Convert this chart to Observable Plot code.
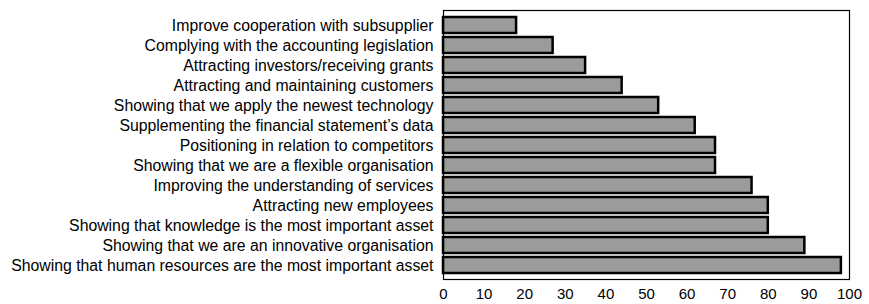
<!DOCTYPE html>
<html>
<head>
<meta charset="utf-8">
<script src="https://cdn.jsdelivr.net/npm/d3@7"></script>
<script src="https://cdn.jsdelivr.net/npm/@observablehq/plot@0.6"></script>
<style>
  html, body { margin: 0; padding: 0; background: #fff; }
  #chart svg { display: block; }
  #chart svg [aria-label="y-axis tick label"] { font-size: 15.8px; }
  #chart svg [aria-label="x-axis tick label"] { font-size: 15px; }
</style>
</head>
<body>
<div id="chart"></div>
<script>
const categories = [
  "Improve cooperation with subsupplier",
  "Complying with the accounting legislation",
  "Attracting investors/receiving grants",
  "Attracting and maintaining customers",
  "Showing that we apply the newest technology",
  "Supplementing the financial statement\u2019s data",
  "Positioning in relation to competitors",
  "Showing that we are a flexible organisation",
  "Improving the understanding of services",
  "Attracting new employees",
  "Showing that knowledge is the most important asset",
  "Showing that we are an innovative organisation",
  "Showing that human resources are the most important asset"
];
const values = [18, 27, 35, 44, 53, 62, 67, 67, 76, 80, 80, 89, 98];
const xTicks = [0, 10, 20, 30, 40, 50, 60, 70, 80, 90, 100];

const data = categories.map((c, i) => ({category: c, value: values[i]}));

const chart = Plot.plot({
  width: 869,
  height: 304,
  marginLeft: 443,
  marginRight: 20,
  marginTop: 10,
  marginBottom: 25,
  style: {fontFamily: "'Liberation Sans', Arial, Helvetica, sans-serif", fontSize: "15px", color: "#000", background: "#fff"},
  x: {domain: [0, 100], ticks: xTicks, tickSize: 0, tickPadding: 9, label: null},
  y: {domain: categories, tickSize: 0, tickPadding: 10, label: null, paddingInner: 0.2, paddingOuter: 0.05},
  marks: [
    Plot.barX(data, {y: "category", x: "value", fill: "#9b9b9b", stroke: "#000", strokeWidth: 2.5}),
    Plot.frame({stroke: "#000", strokeWidth: 1.2})
  ]
});
document.getElementById("chart").appendChild(chart);
</script>
</body>
</html>
